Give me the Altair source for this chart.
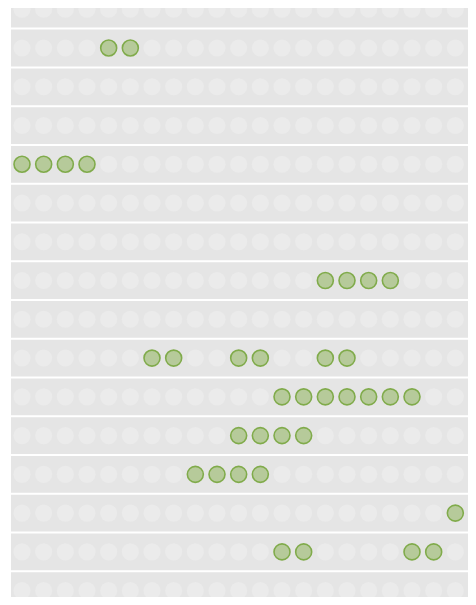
import altair as alt
import pandas as pd

# grid of slots: rows (top row partly cut off) x columns
row_ids = list(range(17))
col_ids = list(range(23))

# highlighted (filled) slots
active_row = [1, 1,
              4, 4, 4, 4,
              7, 7, 7, 7,
              9, 9, 9, 9, 9, 9,
              10, 10, 10, 10, 10, 10, 10,
              11, 11, 11, 11,
              12, 12, 12, 12,
              13, 13,
              14, 14, 14, 14]
active_col = [4, 5,
              0, 1, 2, 3,
              14, 15, 16, 17,
              6, 7, 10, 11, 14, 15,
              12, 13, 14, 15, 16, 17, 18,
              10, 11, 12, 13,
              8, 9, 10, 11,
              20, 21,
              12, 13, 18, 19]

grid = pd.DataFrame([(r, c) for r in row_ids for c in col_ids], columns=["row", "col"])
active = pd.DataFrame({"row": active_row, "col": active_col})
bounds = pd.DataFrame({"b": [r + 0.5 for r in row_ids]})

W = 457
H = 589
PX = 21.667   # pixels per column
PY = 38.76    # pixels per row
x0 = -11 / PX
y0 = -1.24 / PY
xscale = alt.Scale(domain=[x0, x0 + W / PX], nice=False, zero=False)
yscale = alt.Scale(domain=[y0, y0 + H / PY], nice=False, zero=False, reverse=True)

band = alt.Chart(pd.DataFrame({"k": [0]})).mark_rect(color="#e5e5e5", clip=False).encode(
    x=alt.value(0), x2=alt.value(475), y=alt.value(-5), y2=alt.value(605)
)

sep = alt.Chart(bounds).mark_rule(color="white", strokeWidth=2, clip=False).encode(
    y=alt.Y("b:Q", scale=yscale, axis=None),
    x=alt.value(0), x2=alt.value(475),
)

bg = alt.Chart(grid).mark_circle(size=292, color="#ebebeb", opacity=1, clip=False).encode(
    x=alt.X("col:Q", scale=xscale, axis=None),
    y=alt.Y("row:Q", scale=yscale, axis=None),
)

on = alt.Chart(active).mark_point(
    shape="circle", size=256, filled=True, fill="#b6ca9a", stroke="#80ab4b",
    strokeWidth=1.6, opacity=1, fillOpacity=1, clip=False
).encode(
    x=alt.X("col:Q", scale=xscale, axis=None),
    y=alt.Y("row:Q", scale=yscale, axis=None),
)

topbar = alt.Chart(pd.DataFrame({"k": [0]})).mark_rect(color="#1f76ee", clip=False).encode(
    x=alt.value(-11), x2=alt.value(475), y=alt.value(-8), y2=alt.value(-5)
)

chart = (band + sep + bg + on + topbar).properties(
    width=W, height=H,
    padding={"left": 3, "top": 0, "right": 0, "bottom": 0},
    autosize=alt.AutoSizeParams(type="none"),
    background="white",
).configure_view(fill="#e5e5e5", stroke=None)

chart.save("out.html", embed_options={"renderer": "svg", "actions": False})
